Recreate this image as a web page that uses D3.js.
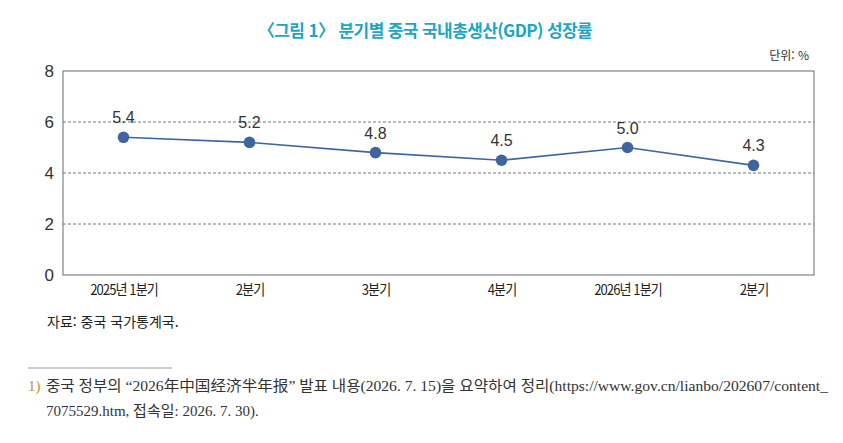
<!DOCTYPE html>
<html lang="ko">
<head>
<meta charset="utf-8">
<title>분기별 중국 국내총생산(GDP) 성장률</title>
<script src="https://d3js.org/d3.v7.min.js"></script>
<style>
  body { margin: 0; padding: 0; background: #fff; overflow: hidden; }
  svg text { font-family: "Noto Sans CJK KR", "Noto Sans", sans-serif; }
  svg text.num { font-family: "Liberation Sans", Arial, sans-serif; }
  svg text.serif { font-family: "Liberation Serif", "Noto Sans CJK KR", serif; }
</style>
</head>
<body>
<svg id="chart"></svg>
<script>
  const quarters = ["2025년 1분기", "2분기", "3분기", "4분기", "2026년 1분기", "2분기"];
  const growth = [5.4, 5.2, 4.8, 4.5, 5.0, 4.3];
  const yTicks = [0, 2, 4, 6, 8];

  const width = 843, height = 443;
  const margin = { top: 71, right: 29, bottom: 168, left: 63 };
  const innerW = width - margin.left - margin.right;
  const innerH = height - margin.top - margin.bottom;

  const svg = d3.select("#chart")
    .attr("width", width)
    .attr("height", height);

  // title
  svg.append("text")
    .attr("x", 425).attr("y", 37)
    .attr("text-anchor", "middle")
    .attr("fill", "#1ba6c8")
    .attr("font-size", 17)
    .attr("font-weight", 700)
    .attr("letter-spacing", "-0.6px")
    .text("〈그림 1〉 분기별 중국 국내총생산(GDP) 성장률");

  svg.append("text")
    .attr("x", 809).attr("y", 60)
    .attr("text-anchor", "end")
    .attr("fill", "#333")
    .attr("font-size", 12)
    .text("단위: %");

  const g = svg.append("g").attr("transform", `translate(${margin.left},${margin.top})`);

  const x = d3.scalePoint()
    .domain(d3.range(quarters.length))
    .range([0, innerW])
    .padding(0.48);

  const y = d3.scaleLinear()
    .domain([0, 8])
    .range([innerH, 0]);

  // dashed grid
  g.append("g")
    .selectAll("line")
    .data(yTicks.filter(d => d > 0 && d < 8))
    .join("line")
    .attr("x1", 0).attr("x2", innerW)
    .attr("y1", d => y(d)).attr("y2", d => y(d))
    .attr("stroke", "#555")
    .attr("stroke-width", 0.8)
    .attr("stroke-dasharray", "3,2");

  // frame
  g.append("rect")
    .attr("x", 0).attr("y", 0)
    .attr("width", innerW).attr("height", innerH)
    .attr("fill", "none")
    .attr("stroke", "#6b6b6b")
    .attr("stroke-width", 1);

  // y axis
  const yAxis = g.append("g")
    .call(d3.axisLeft(y).tickValues(yTicks).tickSize(0).tickPadding(9));
  yAxis.select(".domain").remove();
  yAxis.selectAll("text")
    .attr("class", "num")
    .attr("font-size", 17)
    .attr("fill", "#333");

  // x axis
  const xAxis = g.append("g")
    .attr("transform", `translate(0,${innerH})`)
    .call(d3.axisBottom(x).tickFormat(i => quarters[i]).tickSize(0).tickPadding(10));
  xAxis.select(".domain").remove();
  xAxis.selectAll(".tick text")
    .attr("font-size", 14.5)
    .attr("fill", "#222")
    .attr("letter-spacing", "-1px")
    .attr("transform", "scale(0.9,1)");

  // line
  const line = d3.line()
    .x((d, i) => x(i))
    .y(d => y(d));

  g.append("path")
    .datum(growth)
    .attr("d", line)
    .attr("fill", "none")
    .attr("stroke", "#3f65a0")
    .attr("stroke-width", 1.6);

  g.append("g")
    .selectAll("circle")
    .data(growth)
    .join("circle")
    .attr("cx", (d, i) => x(i))
    .attr("cy", d => y(d))
    .attr("r", 5.8)
    .attr("fill", "#3f65a0");

  g.append("g")
    .selectAll("text")
    .data(growth)
    .join("text")
    .attr("class", "num")
    .attr("x", (d, i) => x(i))
    .attr("y", d => y(d) - 14)
    .attr("text-anchor", "middle")
    .attr("font-size", 16)
    .attr("fill", "#333")
    .text(d => d.toFixed(1));

  // source
  svg.append("text")
    .attr("x", 47).attr("y", 327)
    .attr("fill", "#222")
    .attr("font-size", 14)
    .text("자료: 중국 국가통계국.");

  // footnote
  svg.append("line")
    .attr("x1", 28).attr("x2", 172)
    .attr("y1", 368).attr("y2", 368)
    .attr("stroke", "#888")
    .attr("stroke-width", 0.8);

  svg.append("text")
    .attr("class", "serif")
    .attr("x", 28).attr("y", 391)
    .attr("fill", "#c8902c")
    .attr("font-size", 15)
    .text("1)");

  const fn = svg.append("text")
    .attr("class", "serif")
    .attr("font-size", 15)
    .attr("fill", "#333");
  fn.append("tspan")
    .attr("x", 46).attr("y", 391)
    .attr("textLength", 782).attr("lengthAdjust", "spacingAndGlyphs")
    .text("중국 정부의 “2026年中国经济半年报” 발표 내용(2026. 7. 15)을 요약하여 정리(https://www.gov.cn/lianbo/202607/content_");
  fn.append("tspan")
    .attr("x", 46).attr("y", 416)
    .text("7075529.htm, 접속일: 2026. 7. 30).");
</script>
</body>
</html>
